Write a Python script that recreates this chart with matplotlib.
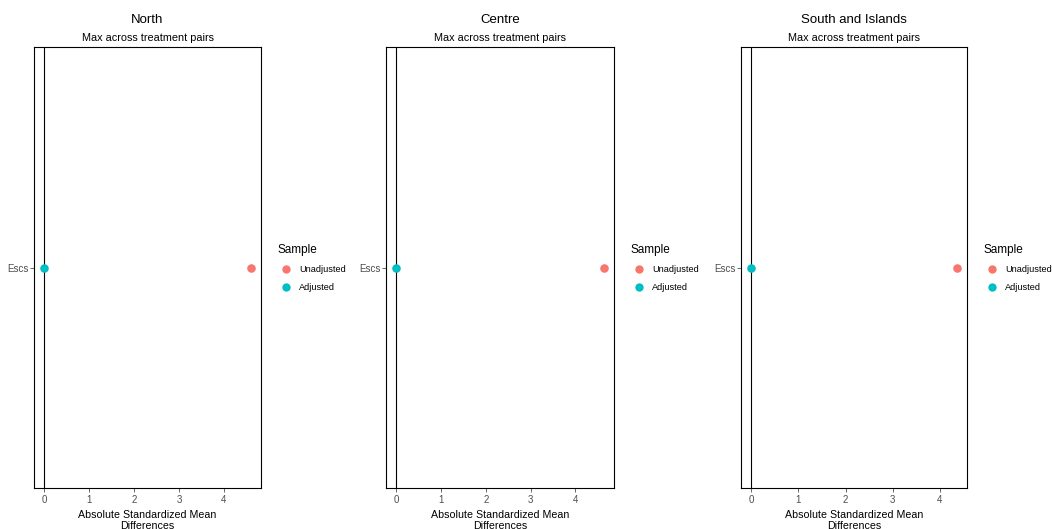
import matplotlib.pyplot as plt
from matplotlib.lines import Line2D

# Max absolute standardized mean difference for Escs, per area
regions = ["North", "Centre", "South and Islands"]
unadjusted = [4.60, 4.63, 4.36]
adjusted = [0.0, 0.0, 0.0]
covariate = "Escs"

RED = "#F8766D"
CYAN = "#00BFC4"
TICK_GREY = "#4D4D4D"

plt.rcParams["font.family"] = ["Liberation Sans", "DejaVu Sans"]
fig = plt.figure(figsize=(10.52, 5.29), dpi=100)

lefts = [34 / 1052, 386 / 1052, 741 / 1052]
widths = [227 / 1052, 228 / 1052, 226 / 1052]
bottom = 41 / 529
height = 441 / 529

for i, region in enumerate(regions):
    ax = fig.add_axes([lefts[i], bottom, widths[i], height])
    ax.axvline(0, color="black", lw=0.8, zorder=1)
    ax.scatter([unadjusted[i]], [0], s=38, color=RED, zorder=3, linewidths=0)
    ax.scatter([adjusted[i]], [0], s=38, color=CYAN, zorder=3, linewidths=0)

    xmax = max(unadjusted[i], adjusted[i])
    xmin = min(unadjusted[i], adjusted[i])
    pad = 0.05 * (xmax - xmin)
    ax.set_xlim(xmin - pad, xmax + pad)
    ax.set_ylim(-1, 1)
    ax.set_xticks([0, 1, 2, 3, 4])
    ax.set_yticks([0])
    ax.set_yticklabels([covariate])
    ax.tick_params(axis="both", labelsize=7, colors=TICK_GREY, length=3,
                   width=0.6, pad=2)
    ax.tick_params(axis="y", pad=0.8)
    for s in ax.spines.values():
        s.set_color("black")
        s.set_linewidth(0.8)

    ax.set_xlabel("Absolute Standardized Mean\nDifferences", fontsize=7.7,
                  labelpad=3.5, linespacing=1.1)
    ax.text(0.5, 1.0615, region, transform=ax.transAxes, ha="center",
            va="center", fontsize=9.5)
    ax.text(0.5, 1.021, "Max across treatment pairs", transform=ax.transAxes,
            ha="center", va="center", fontsize=7.8)

    handles = [
        Line2D([], [], marker="o", ls="", color=RED, markersize=6, mec="none"),
        Line2D([], [], marker="o", ls="", color=CYAN, markersize=6, mec="none"),
    ]
    leg = ax.legend(handles, ["Unadjusted", "Adjusted"], title="Sample",
                    loc="upper left", bbox_to_anchor=(1.051, 0.563),
                    frameon=False, fontsize=6.6, title_fontsize=8.5,
                    alignment="left", handletextpad=0.4, labelspacing=0.97,
                    borderpad=0, handlelength=2.0)

fig.savefig("out.png", dpi=100)
